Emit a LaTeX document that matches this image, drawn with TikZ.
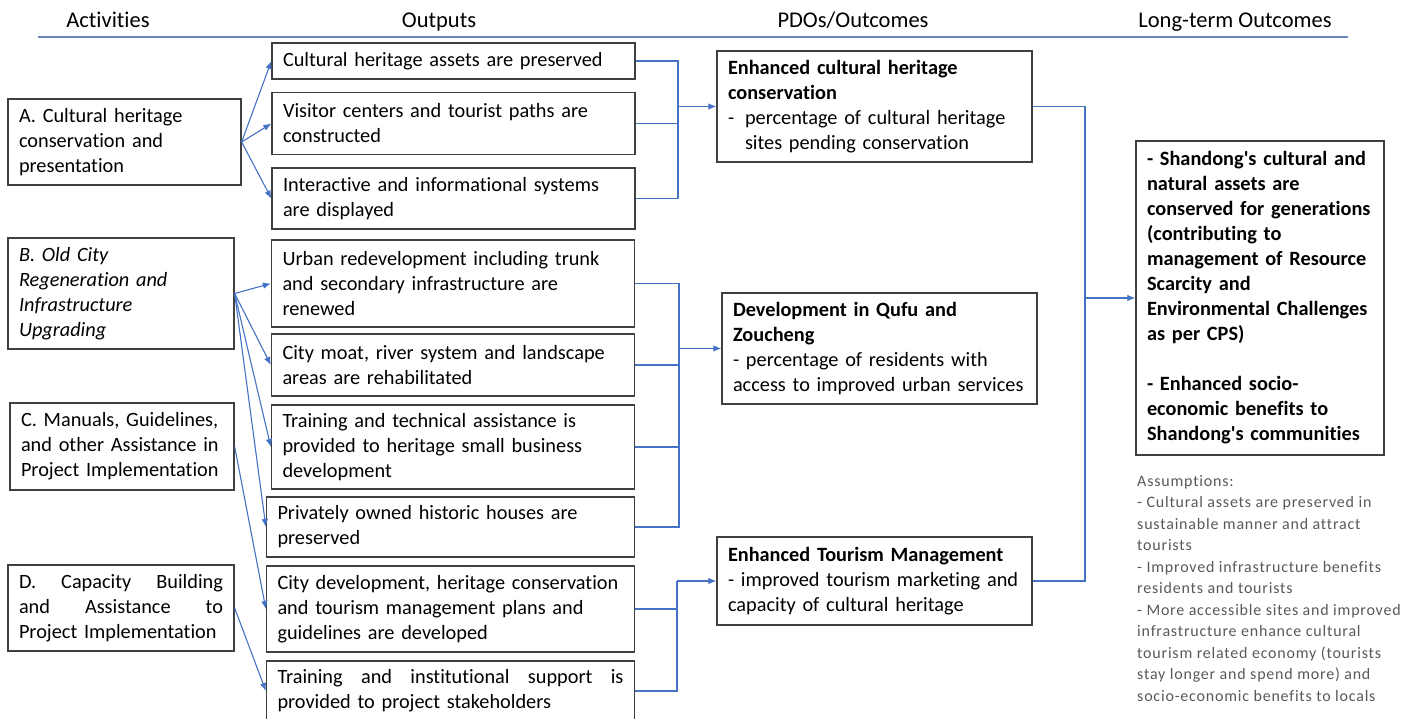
\documentclass[tikz,border=0pt]{standalone}
\usepackage{fontspec}
\setmainfont{Carlito}[Ligatures=NoCommon]
\newfontfamily\notefont{Carlito}[Ligatures=NoCommon,LetterSpace=5]
\usetikzlibrary{arrows.meta}
\definecolor{frameGray}{HTML}{404040}
\definecolor{linkBlue}{HTML}{4472C4}
\definecolor{ruleBlue}{HTML}{6A86BE}
\definecolor{noteGray}{HTML}{595959}

\begin{document}
\begin{tikzpicture}[x=1pt,y=-1pt,box/.style={draw=frameGray,line width=1.3pt,align=left,inner xsep=11pt,inner ysep=0pt,font=\fontsize{20.3}{25}\selectfont},outbox/.style={box,text width=341pt},pdobox/.style={box,text width=293pt},flow/.style={-{Latex[length=8pt,width=6.5pt]},draw=linkBlue,line width=1.1pt},link/.style={draw=linkBlue,line width=1.1pt},head/.style={anchor=base,font=\fontsize{22.5}{25}\selectfont}]
\useasboundingbox (0,0) rectangle (1415,719);
% column headings
\node[head] (hact) at (108,28) {Activities};
\node[head] (hout) at (439,28) {Outputs};
\node[head] (hpdo) at (853,28) {PDOs/Outcomes};
\node[head] (hlto) at (1235,28) {Long-term Outcomes};
\draw[ruleBlue,line width=1.4pt] (38,37) -- (1348,37);
% activities
\node[box,text width=211pt,minimum height=86pt] (a) at (124.5,142) {A. Cultural heritage\\conservation and\\presentation};
\node[box,text width=204pt,minimum height=111pt,font=\fontsize{20.3}{25}\selectfont\itshape] (b) at (121,293.5) {B. Old City\\Regeneration and\\Infrastructure\\Upgrading};
\node[box,text width=202pt,minimum height=87pt] (c) at (122,446.5) {C. Manuals, Guidelines,\\and other Assistance in\\Project Implementation};
\node[box,text width=204pt,minimum height=86pt] (d) at (121,608) {D.\hfill Capacity\hfill Building\\and\hfill Assistance\hfill to\\Project Implementation};
% outputs
\node[outbox,minimum height=36pt] (o1) at (453.5,61) {Cultural heritage assets are preserved};
\node[outbox,minimum height=62pt] (o2) at (453.5,123.5) {Visitor centers and tourist paths are\\constructed};
\node[outbox,minimum height=61pt] (o3) at (453.5,198.5) {Interactive and informational systems\\are displayed};
\node[outbox,minimum height=87pt] (o4) at (453,283.5) {Urban redevelopment including trunk\\and secondary infrastructure are\\renewed};
\node[outbox,minimum height=62pt] (o5) at (453,365) {City moat, river system and landscape\\areas are rehabilitated};
\node[outbox,minimum height=84pt] (o6) at (453,447) {Training and technical assistance is\\provided to heritage small business\\development};
\node[outbox,text width=346pt,minimum height=60pt] (o7) at (450.5,527) {Privately owned historic houses are\\preserved};
\node[outbox,text width=346pt,minimum height=86pt] (o8) at (450.5,609) {City development, heritage conservation\\and tourism management plans and\\guidelines are developed};
\node[outbox,text width=346pt,minimum height=60pt] (o9) at (450.5,691) {Training\hfill and\hfill institutional\hfill support\hfill is\\provided to project stakeholders};
% PDOs / outcomes
\node[pdobox,minimum height=111pt] (p1) at (874.5,106.5) {\textbf{Enhanced cultural heritage}\\\textbf{conservation}\\\makebox[17pt][l]{-}percentage of cultural heritage\\\hspace*{17pt}sites pending conservation};
\node[pdobox,minimum height=111pt] (p2) at (879.5,348.5) {\textbf{Development in Qufu and}\\\textbf{Zoucheng}\\- percentage of residents with\\access to improved urban services};
\node[pdobox,minimum height=88pt] (p3) at (874.5,581) {\textbf{Enhanced Tourism Management}\\- improved tourism marketing and\\capacity of cultural heritage};
% long-term outcome
\node[box,text width=226pt,minimum height=314pt,font=\fontsize{20.3}{25}\selectfont\bfseries] (lto) at (1260,298) {- Shandong\textquotesingle s cultural and\\natural assets are\\conserved for generations\\(contributing to\\management of Resource\\Scarcity and\\Environmental Challenges\\as per CPS)\\[25pt]- Enhanced socio-\\economic benefits to\\Shandong\textquotesingle s communities};
\node[anchor=north west,inner sep=0pt,align=left,text=noteGray,font=\notefont\fontsize{16}{21.5}\selectfont] (asm) at (1137,475) {Assumptions:\\- Cultural assets are preserved in\\sustainable manner and attract\\tourists\\- Improved infrastructure benefits\\residents and tourists\\- More accessible sites and improved\\infrastructure enhance cultural\\tourism related economy (tourists\\stay longer and spend more) and\\socio-economic benefits to locals};
% activities to outputs
\draw[flow] (a.east) -- (o1.west);
\draw[flow] (a.east) -- (o2.west);
\draw[flow] (a.east) -- (o3.west);
\draw[flow] (b.east) -- (o4.west);
\draw[flow] (b.east) -- (o5.west);
\draw[flow] (b.east) -- (o6.west);
\draw[flow] (b.east) -- (o7.west);
\draw[flow] (c.east) -- (o8.west);
\draw[flow] (d.east) -- (o9.west);
% outputs to outcomes
\coordinate (j1) at (678,106.5);
\coordinate (j2) at (679,348.5);
\coordinate (j3) at (677,581);
\coordinate (j4) at (1085,298);
\draw[link] (o1.east) -| (j1) |- (o3.east);
\draw[link] (o2.east) -- (o2.east -| j1);
\draw[flow] (j1) -- (p1.west);
\draw[link] (o4.east) -| (j2) |- (o7.east);
\draw[link] (o5.east) -- (o5.east -| j2);
\draw[link] (o6.east) -- (o6.east -| j2);
\draw[flow] (j2) -- (p2.west);
\draw[link] (o9.east) -| (j3);
\draw[link] (o8.east) -- (o8.east -| j3);
\draw[flow] (j3) -- (p3.west);
% outcomes to long-term
\draw[link] (p1.east) -| (j4) |- (p3.east);
\draw[flow] (j4) -- (lto.west);
\end{tikzpicture}
\end{document}
